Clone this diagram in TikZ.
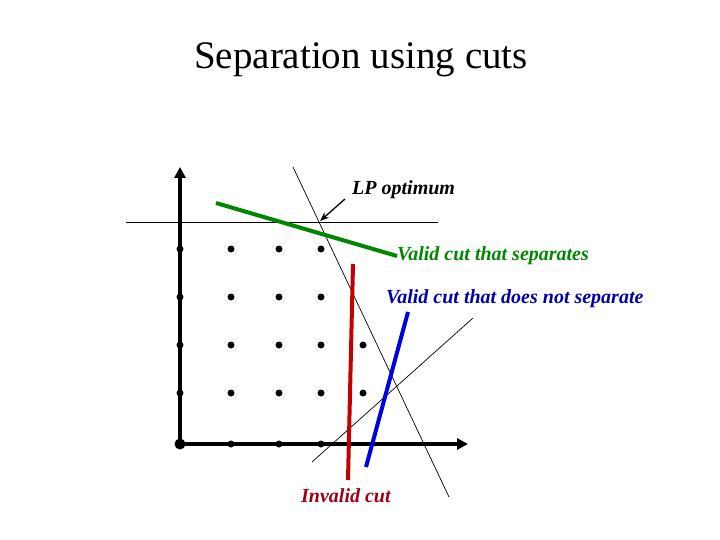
\documentclass[tikz,border=0pt]{standalone}
\usepackage{fontspec}
\setmainfont{Liberation Serif}
\usetikzlibrary{arrows.meta}
\definecolor{cutgreen}{RGB}{0,135,0}
\definecolor{cutblue}{RGB}{0,0,225}
\definecolor{cutred}{RGB}{195,0,0}
\definecolor{bluetext}{RGB}{0,0,170}
\definecolor{redtext}{RGB}{160,0,20}

\begin{document}
\begin{tikzpicture}[
  				x=1pt,y=-1pt,
  				lattice/.style={
  					circle,
  					fill=black,
  					inner sep=0pt,
  					minimum size=7pt
  				},
  				axis/.style={
  					-{Triangle[length=11pt,width=11pt]},
  					line width=4pt
  				},
  				bound/.style={
  					line width=0.7pt
  				},
  				cutline/.style={
  					line width=4pt
  				},
  				cutlabel/.style={
  					font=\fontsize{20}{24}\selectfont\bfseries\itshape,
  					inner sep=0pt,
  					anchor=west
  				}
  				]
  				\useasboundingbox (0,0) rectangle (720,540);
  				
  				\node[font=\fontsize{39}{45}\selectfont] (title) at (361,60) {Separation using cuts};
  				
  				% integer points
  				\foreach \x in {231,279,321}
  				\foreach \y in {444,393,345,297,249}
  				\node[lattice] (p-\x-\y) at (\x,\y) {};
  				\foreach \y in {393,345,297,249}
  				\node[lattice] (p-180-\y) at (180,\y) {};
  				\foreach \y in {393,345}
  				\node[lattice] (p-363-\y) at (363,\y) {};
  				\node[lattice, minimum size=11pt] (origin) at (180,444) {};
  				
  				\coordinate (ytip) at (180,167);
  				\coordinate (xtip) at (468,444);
  				
  				% LP constraints
  				\coordinate (h1) at (126,222);
  				\coordinate (h2) at (438,222);
  				\coordinate (s1) at (293,167);
  				\coordinate (s2) at (449,497);
  				\coordinate (f1) at (312,462);
  				\coordinate (f2) at (473,318);
  				\coordinate (opt) at (320,221);
  				
  				\draw[bound] (h1) -- (h2);
  				\draw[bound] (s1) -- (s2);
  				\draw[bound] (f1) -- (f2);
  				
  				\draw[axis] (origin.center) -- (ytip);
  				\draw[axis] (origin.center) -- (xtip);
  				
  				\node[cutlabel] (lpopt) at (352,190) {LP optimum};
  				\draw[-{Stealth[length=9pt,width=7pt]}, line width=1.3pt] (345,199) -- (opt);
  				
  				% cuts
  				\node[cutlabel, text=cutgreen] (sep) at (397,256) {Valid cut that separates};
  				\node[cutlabel, text=bluetext] (nosep) at (386,299) {Valid cut that does not separate};
  				\node[cutlabel, text=redtext] (invalid) at (301,496) {Invalid cut};
  				
  				\coordinate (g1) at (216,203);
  				\coordinate (r1) at (353,264);
  				\coordinate (r2) at (348,480);
  				\coordinate (b1) at (408,312);
  				\coordinate (b2) at (366,467);
  				
  				\draw[cutline, cutgreen] (g1) -- (sep.west);
  				\draw[cutline, cutred] (r1) -- (r2);
  				\draw[cutline, cutblue] (b1) -- (b2);
  				
  			\end{tikzpicture}
\end{document}
